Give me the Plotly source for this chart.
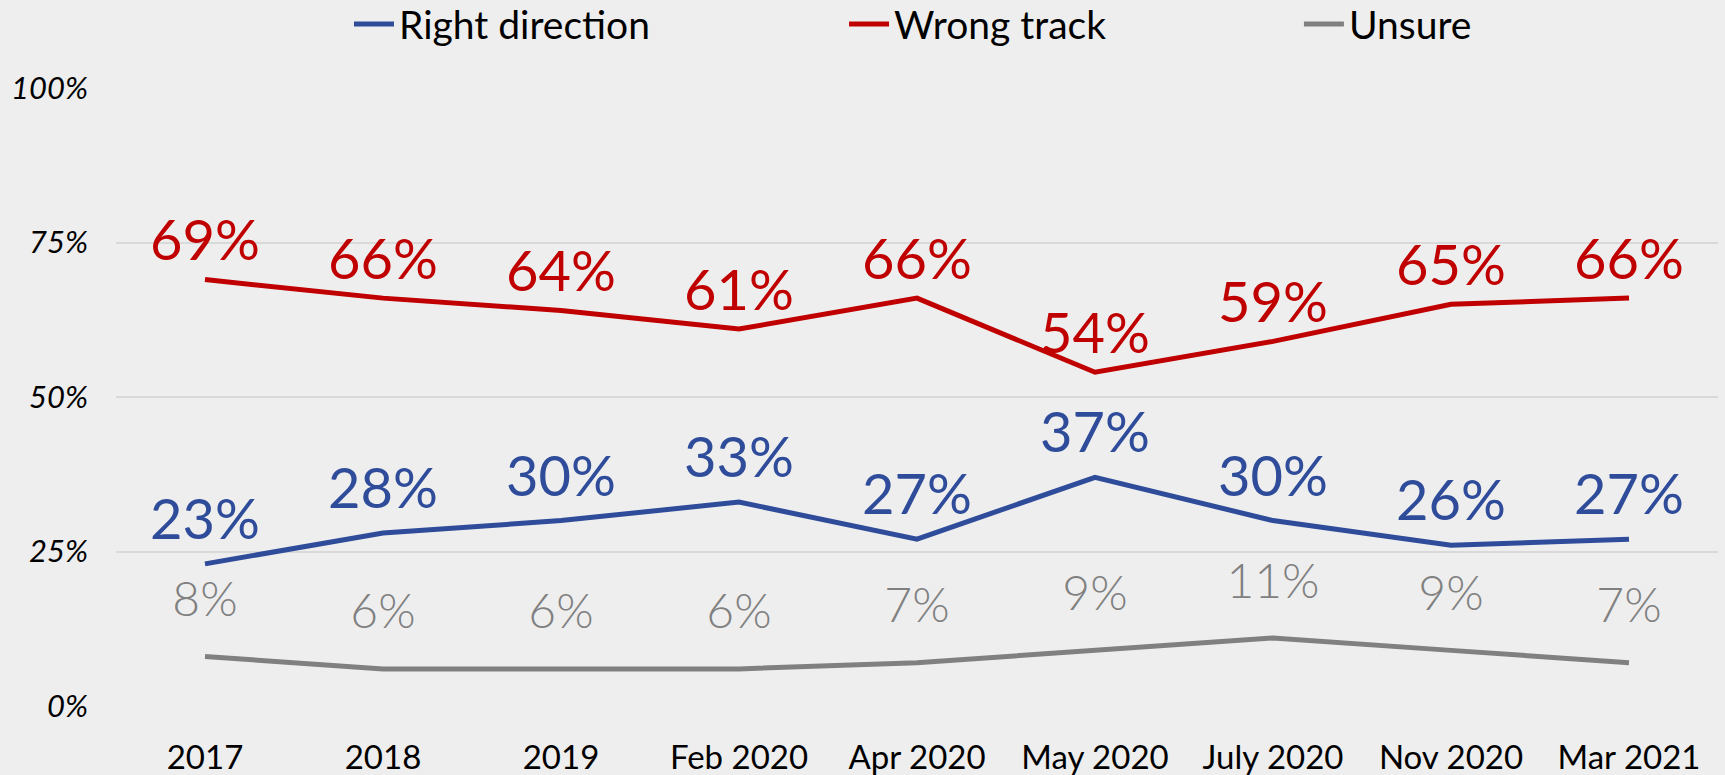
import plotly.graph_objects as go

periods = ['2017', '2018', '2019', 'Feb 2020', 'Apr 2020', 'May 2020', 'July 2020', 'Nov 2020', 'Mar 2021']
right_direction = [23, 28, 30, 33, 27, 37, 30, 26, 27]
wrong_track = [69, 66, 64, 61, 66, 54, 59, 65, 66]
unsure = [8, 6, 6, 6, 7, 9, 11, 9, 7]
y_ticks = [0, 25, 50, 75, 100]

FONT = 'Lato, Liberation Sans, sans-serif'

fig = go.Figure()

# name, values, colour, label size, label weight, clear marker size (pushes label up), legend id, legend x
series = [
    ('Right direction', right_direction, '#2E4C9A', 56, 400, 16, 'legend', 0.2023),
    ('Wrong track', wrong_track, '#C00000', 56, 400, 7, 'legend2', 0.4893),
    ('Unsure', unsure, '#808080', 48, 300, 44, 'legend3', 0.7530),
]
legends = {}
for name, vals, color, fsize, weight, msize, leg, lx in series:
    fig.add_trace(go.Scatter(
        x=periods, y=vals, name=name, mode='lines+markers+text',
        line=dict(color=color, width=5),
        marker=dict(size=msize, color='rgba(0,0,0,0)'),
        text=[f'{v}%' for v in vals], textposition='top center',
        textfont=dict(color=color, size=fsize, family=FONT, weight=weight),
        cliponaxis=False, legend=leg, showlegend=True,
    ))
    legends[leg] = dict(orientation='h', xref='container', yref='container', x=lx, y=0.969,
                        xanchor='left', yanchor='middle', font=dict(size=39),
                        itemwidth=40, bgcolor='rgba(0,0,0,0)')

fig.update_layout(
    width=1725, height=775, showlegend=True,
    paper_bgcolor='#EEEEEE', plot_bgcolor='#EEEEEE',
    margin=dict(l=116, r=7, t=88, b=69),
    font=dict(family=FONT, color='black'),
    **legends,
)
fig.update_xaxes(type='category', range=[-0.5, 8.5], showgrid=False, zeroline=False,
                 showline=False, tickfont=dict(size=33), ticks='', ticklabelstandoff=29,
                 automargin=False)
fig.update_yaxes(range=[0, 100], tickvals=y_ticks, ticktext=[f'{v}%' for v in y_ticks],
                 showgrid=True, gridcolor='#D9D9D9', gridwidth=1.5, zeroline=False,
                 tickfont=dict(size=31, style='italic'), ticks='', ticklabelstandoff=27,
                 automargin=False)

fig.write_html('out.html', config={'displayModeBar': False},
               post_script="document.body.style.margin='0';document.body.style.background='#EEEEEE';")
